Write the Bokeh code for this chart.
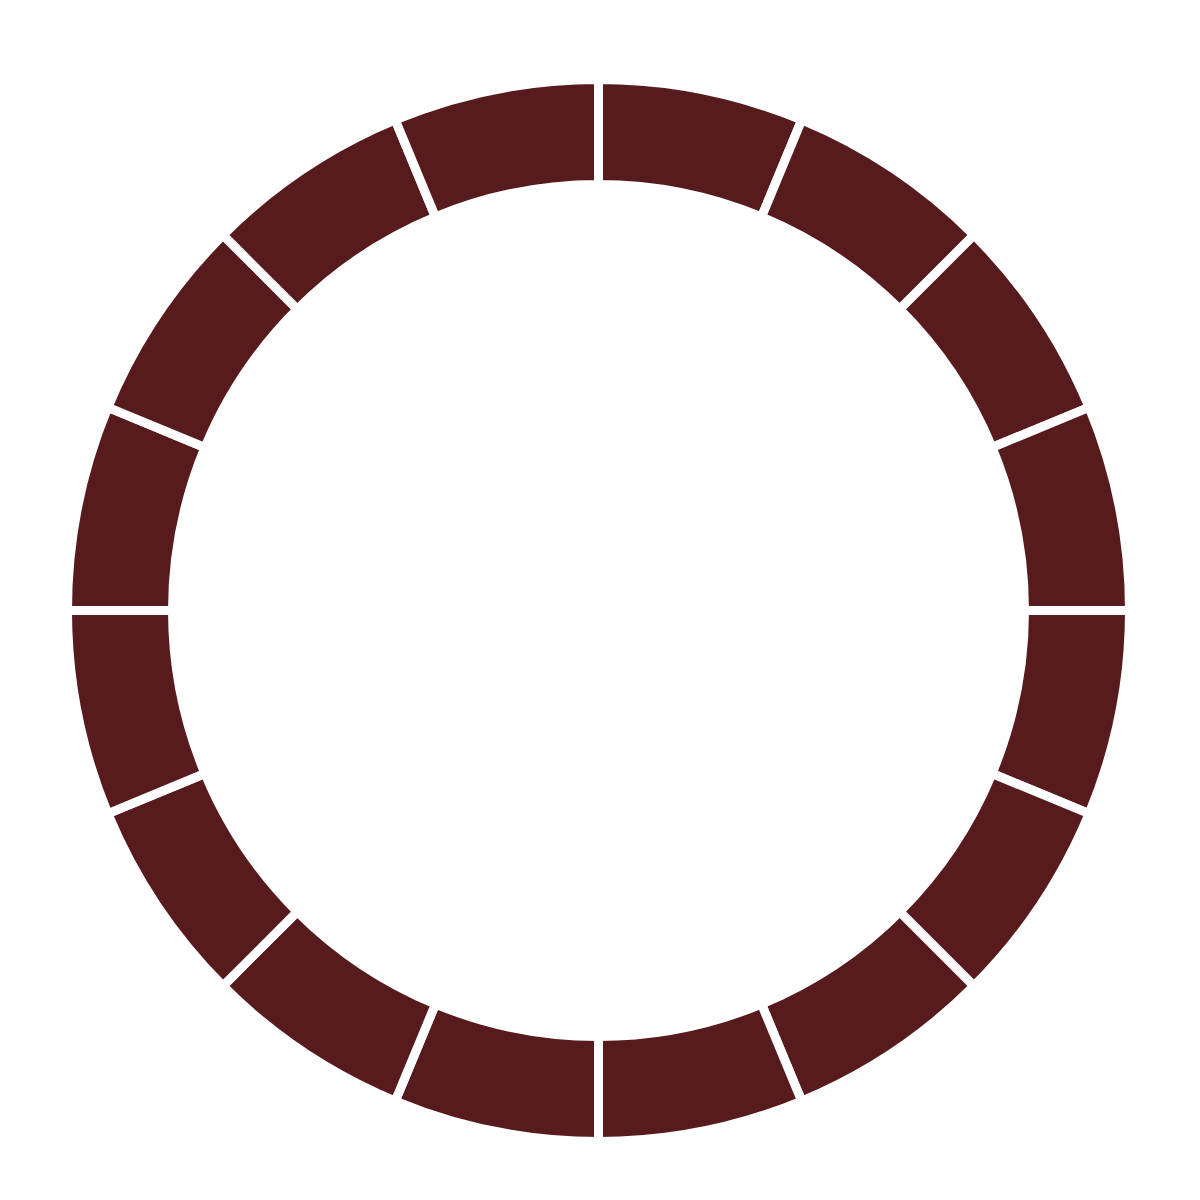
import math
from bokeh.plotting import figure
from bokeh.models import Range1d, ColumnDataSource
from bokeh.embed import file_html
from bokeh.resources import INLINE

segments = ["1", "2", "3", "4", "5", "6", "7", "8",
            "9", "10", "11", "12", "13", "14", "15", "16"]
values = [1, 1, 1, 1, 1, 1, 1, 1, 1, 1, 1, 1, 1, 1, 1, 1]

total = sum(values)
starts, ends = [], []
acc = 0.0
for v in values:
    a0 = math.pi / 2 - 2 * math.pi * acc / total
    acc += v
    a1 = math.pi / 2 - 2 * math.pi * acc / total
    starts.append(a1)
    ends.append(a0)

src = ColumnDataSource(dict(seg=segments, val=values, start=starts, end=ends))

p = figure(width=1184, height=1184, output_backend="svg", toolbar_location=None,
           x_range=Range1d(8, 1192), y_range=Range1d(8, 1192), min_border=0)
p.axis.visible = False
p.grid.visible = False
p.outline_line_color = None
p.background_fill_color = "white"
p.border_fill_color = "white"

cx, cy = 606, 582
p.annular_wedge(x=cx, y=cy, inner_radius=426, outer_radius=531,
                start_angle="start", end_angle="end", source=src,
                fill_color="#571b1d", line_color="white", line_width=9)

open("out.html", "w").write(file_html(p, INLINE))
